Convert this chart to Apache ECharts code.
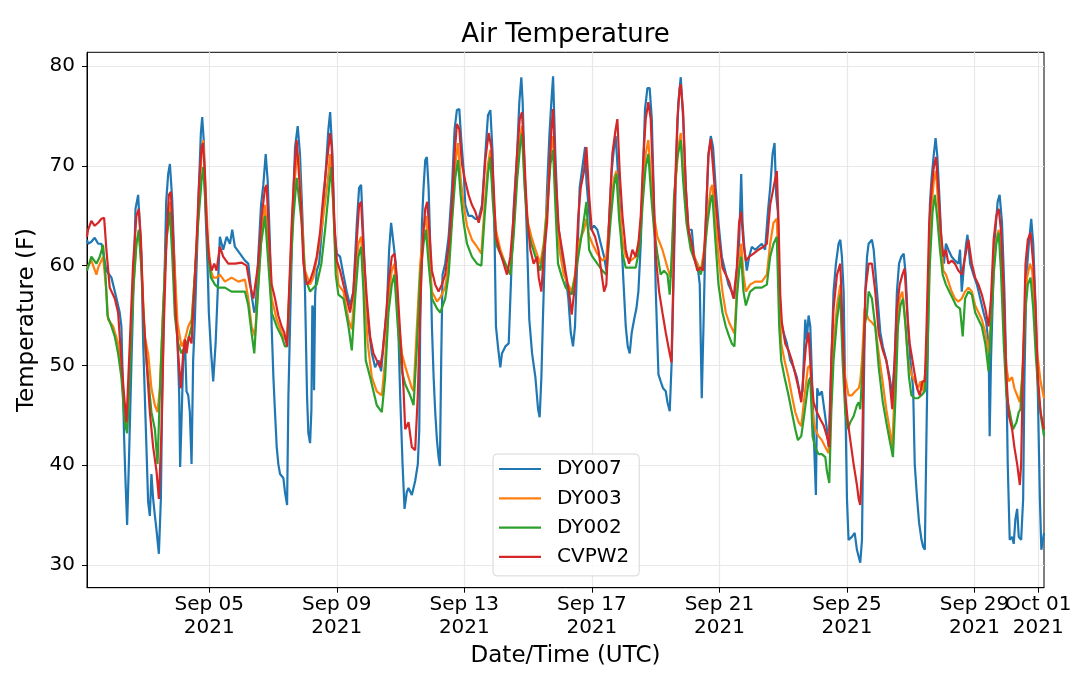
<!DOCTYPE html>
<html>
<head>
<meta charset="utf-8">
<title>Air Temperature</title>
<script src="https://cdn.jsdelivr.net/npm/echarts@6.0.0/dist/echarts.min.js"></script>
<style>
  html, body { margin: 0; padding: 0; background: #fff; }
  #chart { width: 1080px; height: 678px; }
</style>
</head>
<body>
<div id="chart"></div>
<script>
// times are hours since 2021-09-01 00:00 UTC, values in deg F
const stationNames = ['DY007', 'DY003', 'DY002', 'CVPW2']
const stationColors = ['#1f77b4', '#ff7f0e', '#2ca02c', '#d62728']
const tickDates = ['2021-09-05', '2021-09-09', '2021-09-13', '2021-09-17', '2021-09-21', '2021-09-25', '2021-09-29', '2021-10-01']
const yTicks = [30, 40, 50, 60, 70, 80]
const hourRange = [4, 724.3]
const tempRange = [27.7, 81.4]

const dy007 = [
  [4,62.6],[4.8,62.2],[7.3,62.4],[9.8,62.8],[12.4,62.2],[14.9,62.2],[16.1,62.4],[18.6,59.5],[22.4,58.8],[26.2,56.7],
  [28.6,55.3],[29.9,53.9],[31.2,47.0],[31.9,42.9],[32.9,38.7],[34.2,34.0],[35.5,40.1],[37.5,50.5],[39.5,60.2],[40.5,65.7],
  [42.5,67.1],[43.8,67.3],[45.0,60.9],[46.3,52.2],[47.5,47.0],[48.8,41.5],[50.0,36.3],[51.3,34.9],[52.5,39.1],[53.8,36.6],
  [55.1,34.9],[56.3,33.5],[58.1,31.1],[59.6,36.6],[60.6,47.0],[62.1,57.4],[63.6,66.4],[65.1,69.2],[66.4,70.2],[68.1,66.7],
  [70.1,59.1],[71.9,53.3],[73.4,47.0],[74.1,39.8],[75.1,44.3],[76.4,50.5],[77.7,52.6],[78.9,47.4],[80.2,47.0],[81.4,45.3],
  [82.7,40.1],[83.9,50.5],[85.2,54.6],[87.0,62.2],[88.2,67.8],[89.7,73.3],[90.7,74.9],[92.0,72.3],[93.2,65.4],[94.7,60.2],
  [95.7,55.3],[97.3,51.5],[99.0,48.4],[100.8,52.2],[102.8,58.8],[104.0,62.9],[106.5,61.6],[109.1,62.9],[111.6,62.2],[113.3,63.6],
  [115.3,61.9],[119.1,61.2],[122.9,60.5],[125.4,60.2],[127.9,57.0],[129.9,55.3],[130.9,55.6],[132.9,60.9],[135.0,66.1],[136.7,68.1],
  [138.5,71.2],[140.0,68.5],[141.7,62.2],[143.0,53.9],[144.3,48.8],[145.5,45.3],[146.8,41.8],[148.0,40.1],[149.3,39.1],[151.8,38.7],
  [153.0,37.3],[154.6,36.0],[155.6,47.0],[156.8,53.9],[158.6,64.3],[160.6,71.9],[162.6,74.0],[164.3,71.2],[166.1,65.0],[168.1,57.4],
  [169.6,47.0],[170.6,43.2],[171.9,42.2],[172.9,45.5],[173.6,56.0],[174.4,55.5],[174.9,47.5],[175.7,57.0],[176.9,59.5],[178.7,60.2],
  [181.2,64.3],[183.2,68.5],[185.7,73.7],[187.0,75.4],[188.7,71.2],[190.2,63.6],[192.0,61.2],[194.5,60.9],[197.0,59.1],[199.5,57.4],
  [202.0,56.0],[204.5,57.4],[207.1,64.3],[208.8,67.8],[210.3,68.1],[212.1,62.6],[213.8,57.4],[215.8,53.9],[218.4,51.2],[220.9,49.8],
  [223.4,50.5],[225.4,49.4],[227.2,52.2],[229.7,55.7],[231.4,61.6],[232.9,64.3],[234.7,62.2],[236.4,60.2],[237.9,55.7],[239.7,47.0],
  [241.5,40.1],[243.0,35.6],[244.7,37.3],[246.0,37.7],[248.5,37.0],[251.0,38.4],[253.0,40.1],[254.1,43.6],[254.8,53.9],[256.1,64.3],
  [257.3,67.8],[258.6,70.6],[259.8,70.9],[261.1,67.8],[262.3,62.2],[263.6,53.9],[264.9,48.8],[266.1,45.3],[267.4,42.5],[268.6,40.8],
  [269.6,39.9],[270.6,50.5],[271.6,59.1],[273.6,60.2],[276.2,62.9],[278.7,67.8],[280.7,73.7],[282.4,75.6],[284.2,75.7],[285.7,72.6],
  [287.5,69.5],[288.7,66.1],[291.2,65.0],[293.7,65.0],[296.3,64.7],[298.8,64.7],[301.3,66.1],[303.8,71.2],[305.8,75.1],[307.6,75.6],
  [309.3,71.2],[310.8,62.6],[311.8,53.9],[313.3,51.9],[315.1,49.8],[316.3,51.2],[318.9,51.9],[321.4,52.2],[323.4,59.5],[325.1,65.7],
  [327.7,71.2],[329.4,76.4],[330.9,78.9],[331.9,76.4],[333.4,69.5],[335.2,62.6],[336.9,54.6],[339.0,51.2],[341.5,48.8],[343.5,45.6],
  [344.7,44.8],[346.0,48.8],[347.0,53.9],[348.5,60.9],[350.3,67.8],[352.0,73.0],[353.5,76.4],[354.8,79.0],[356.5,71.2],[358.5,64.3],
  [361.6,60.9],[364.1,59.1],[366.3,56.7],[368.1,53.3],[369.8,51.9],[371.3,53.9],[373.1,60.9],[374.8,67.8],[376.9,69.9],[378.9,71.9],
  [379.9,68.5],[381.4,66.1],[383.1,63.6],[385.6,64.0],[388.1,63.6],[390.7,62.2],[393.2,60.9],[394.9,59.5],[396.9,64.3],[398.9,69.5],
  [400.7,71.9],[401.9,73.0],[404.0,68.5],[405.7,64.3],[407.5,59.1],[409.5,53.9],[411.0,51.9],[412.5,51.2],[414.0,53.3],[415.8,54.6],
  [417.5,55.7],[419.0,57.4],[420.8,62.2],[422.5,69.5],[424.0,75.7],[425.8,77.8],[427.5,77.8],[429.1,74.7],[430.8,66.1],[432.1,57.4],
  [434.1,49.1],[435.8,48.4],[437.6,47.7],[439.6,47.4],[440.9,46.3],[442.6,45.4],[444.1,50.5],[445.9,60.9],[447.6,71.2],[449.1,76.4],
  [450.9,78.9],[452.7,74.7],[454.7,67.8],[456.7,63.6],[459.2,63.6],[460.9,60.9],[463.4,60.2],[465.2,58.1],[466.7,46.7],[468.0,53.9],
  [469.7,64.3],[471.7,70.9],[473.5,73.0],[475.2,71.9],[477.2,67.8],[479.3,64.3],[481.8,60.9],[484.3,59.5],[486.8,58.1],[489.3,57.4],
  [491.3,56.7],[493.1,59.5],[494.8,62.2],[496.4,69.2],[497.4,64.3],[498.9,61.6],[500.6,59.5],[502.4,60.9],[504.4,61.9],[506.9,61.6],
  [509.4,61.9],[511.9,62.2],[514.4,61.6],[516.5,65.4],[518.2,67.8],[520.0,71.2],[521.5,72.3],[522.7,67.1],[524.0,65.4],[525.0,57.4],
  [526.5,54.3],[528.3,53.3],[530.8,52.2],[533.3,50.5],[535.8,49.8],[538.3,48.8],[540.8,47.0],[542.6,47.4],[544.6,54.6],[545.8,52.6],
  [547.1,55.0],[548.4,53.9],[550.1,47.0],[551.6,40.8],[552.6,37.0],[553.6,47.7],[555.1,47.0],[557.1,47.4],[559.2,45.3],[560.9,43.6],
  [562.2,41.8],[563.4,47.0],[564.7,52.2],[565.9,57.4],[567.7,60.2],[569.7,62.2],[571.0,62.6],[572.2,60.9],[573.5,57.4],[574.7,47.0],
  [576.0,36.6],[577.2,32.5],[579.7,32.8],[581.8,33.2],[583.5,31.5],[586.0,30.2],[587.3,32.5],[588.6,47.0],[589.8,57.4],[591.1,60.9],
  [592.3,62.2],[594.8,62.6],[596.1,61.6],[598.6,57.4],[601.1,53.3],[603.0,51.9],[605.6,50.5],[608.1,48.8],[610.1,47.0],[611.9,50.5],
  [613.6,57.4],[615.2,60.2],[616.9,60.9],[618.7,61.2],[620.2,59.1],[622.0,53.9],[623.7,50.5],[625.8,47.7],[627.0,40.1],[628.8,36.6],
  [630.3,34.2],[632.1,32.5],[633.3,31.8],[634.6,31.5],[635.9,43.6],[637.1,53.9],[638.4,66.1],[639.7,68.8],[641.4,71.2],[642.7,72.8],
  [644.0,71.0],[645.5,67.1],[647.2,62.2],[649.0,60.2],[650.5,62.2],[652.3,61.6],[654.8,60.9],[657.3,60.5],[659.9,60.2],[661.1,61.6],
  [662.4,57.4],[664.2,60.2],[665.7,62.2],[666.7,63.1],[668.7,60.2],[671.2,59.1],[673.8,58.1],[676.3,56.7],[678.8,55.3],[680.8,54.3],
  [682.6,52.2],[683.4,42.9],[684.4,50.5],[685.9,57.4],[687.6,63.3],[689.4,66.4],[690.9,67.1],[692.7,64.3],[694.5,57.4],[696.0,48.8],
  [697.0,40.1],[698.5,32.5],[700.3,32.8],[701.5,32.1],[702.8,34.6],[704.1,35.6],[705.3,32.8],[707.1,32.5],[708.6,36.6],[709.6,48.8],
  [711.1,59.1],[712.9,62.2],[714.7,64.7],[716.2,62.2],[718.0,55.7],[719.7,47.0],[721.2,36.6],[722.3,31.5],[723.5,32.5],[724.3,33.2]
]

const dy003 = [
  [4,59.8],[7.3,60.5],[11.1,59.1],[12.4,59.8],[16.1,60.9],[18.6,57.4],[19.9,54.6],[23.7,53.9],[27.4,52.2],[29.9,49.4],
  [32.4,45.3],[34.2,43.6],[36.2,50.5],[38.7,57.4],[41.2,62.2],[43.0,63.3],[45.0,60.2],[47.5,52.9],[50.0,51.2],[52.5,47.7],
  [55.1,46.0],[57.1,45.3],[58.8,47.7],[61.3,55.7],[63.8,62.6],[66.4,66.4],[67.6,66.4],[69.6,60.9],[72.1,54.3],[75.1,51.9],
  [77.7,52.6],[80.2,53.9],[82.7,54.6],[85.2,59.1],[87.7,65.0],[90.2,71.2],[91.5,72.6],[93.2,67.8],[95.2,62.2],[97.3,59.5],
  [99.0,58.8],[101.5,58.8],[104.0,59.1],[107.8,58.4],[112.8,58.8],[117.9,58.4],[122.9,58.6],[125.4,56.7],[127.9,53.9],[130.4,52.9],
  [132.9,58.1],[135.5,63.6],[138.0,66.1],[140.5,61.6],[143.0,56.7],[146.8,54.6],[150.5,53.3],[153.0,52.6],[154.6,52.6],[156.8,59.1],
  [159.3,67.1],[161.8,70.6],[163.1,71.2],[165.6,65.0],[168.1,59.5],[171.9,58.1],[174.4,58.8],[178.2,61.6],[181.9,65.0],[185.2,68.5],
  [187.0,71.2],[188.7,67.8],[190.7,62.2],[193.2,58.1],[197.0,57.4],[200.8,54.6],[203.3,53.6],[205.8,58.1],[208.3,62.2],[210.3,62.9],
  [212.8,57.4],[215.3,52.2],[218.4,48.8],[222.1,47.4],[225.9,47.0],[228.4,50.5],[230.9,56.7],[233.4,59.5],[235.4,60.2],[237.9,55.3],
  [241.0,51.2],[243.5,49.9],[246.0,48.8],[248.5,47.7],[249.8,47.4],[252.3,53.9],[254.8,60.2],[257.3,63.6],[259.1,65.0],[261.1,61.6],
  [263.6,57.4],[267.4,56.4],[269.9,56.8],[273.6,57.8],[276.2,60.2],[278.7,65.0],[281.2,70.2],[283.2,72.3],[285.2,68.8],[287.5,66.1],
  [290.0,64.0],[293.7,62.6],[297.5,61.9],[300.8,61.2],[303.3,66.1],[305.8,70.2],[307.6,71.6],[309.3,67.8],[311.8,63.6],[315.1,61.6],
  [318.9,60.2],[322.6,59.1],[325.1,63.6],[327.7,69.5],[330.2,73.0],[331.4,74.0],[333.4,68.5],[335.9,64.3],[338.5,62.9],[341.5,61.6],
  [345.2,60.2],[347.7,62.2],[350.3,66.1],[352.8,71.2],[354.8,73.0],[357.0,67.1],[359.6,61.6],[362.8,59.1],[366.1,58.1],[368.8,57.4],
  [371.3,59.1],[373.8,62.2],[378.1,63.6],[379.9,64.7],[381.9,63.0],[384.4,62.2],[388.1,61.2],[391.9,60.5],[394.9,60.9],[398.2,66.1],
  [400.7,68.8],[402.5,69.5],[404.5,66.1],[407.0,62.6],[409.5,60.9],[413.2,60.5],[417.0,60.9],[420.0,62.9],[422.5,67.8],[424.5,71.2],
  [426.5,72.6],[428.6,68.5],[430.8,65.0],[433.3,62.9],[437.1,61.6],[440.9,59.8],[443.4,58.8],[445.1,63.6],[447.1,68.5],[449.1,71.9],
  [450.9,73.3],[452.7,69.5],[455.2,65.0],[458.4,62.2],[462.2,60.5],[466.0,59.5],[468.5,61.6],[471.0,65.0],[473.5,67.8],[474.7,68.1],
  [476.7,65.0],[479.3,60.9],[482.3,57.4],[484.8,55.3],[487.3,54.3],[491.3,53.2],[493.1,57.4],[494.8,60.2],[496.4,62.2],[498.1,59.1],
  [499.9,57.4],[503.1,58.1],[506.9,58.4],[511.9,58.4],[515.7,59.1],[518.2,62.2],[520.7,64.3],[523.2,64.7],[525.0,57.4],[526.5,52.2],
  [529.0,50.5],[532.0,48.8],[534.5,47.0],[537.1,45.3],[539.6,44.3],[541.6,43.9],[544.1,47.0],[546.6,49.8],[548.4,50.0],[550.1,45.3],
  [552.1,43.6],[554.6,42.9],[557.1,42.5],[559.7,41.8],[562.2,41.2],[564.2,47.0],[565.9,52.2],[568.5,56.0],[571.0,58.1],[572.7,52.2],
  [574.7,48.8],[577.2,47.0],[579.7,47.0],[582.3,47.4],[584.8,47.7],[586.0,48.4],[587.3,50.5],[589.3,55.7],[592.3,54.6],[594.8,54.3],
  [597.3,53.9],[599.9,51.2],[602.4,48.8],[605.6,45.6],[608.1,43.6],[610.1,41.8],[611.9,47.7],[613.6,53.9],[615.7,56.7],[617.7,57.4],
  [619.4,55.0],[622.0,50.5],[624.5,49.1],[627.0,48.4],[629.5,47.7],[631.3,48.4],[633.3,47.4],[634.6,47.4],[635.9,50.5],[637.9,60.9],
  [639.7,66.1],[641.4,68.5],[643.0,69.5],[644.7,66.1],[646.5,62.6],[648.5,59.5],[650.5,59.1],[652.3,58.4],[654.8,57.4],[657.3,56.7],
  [659.9,56.4],[662.4,56.7],[664.9,57.4],[667.4,57.8],[670.0,57.4],[672.5,56.0],[675.0,55.3],[677.5,54.6],[680.1,53.3],[682.6,51.2],
  [684.4,54.6],[686.4,60.2],[688.4,62.6],[690.2,63.6],[691.9,60.9],[694.0,54.6],[696.0,49.8],[697.8,48.4],[700.3,48.8],[702.0,47.7],
  [704.1,47.0],[706.1,46.3],[707.9,48.8],[709.6,54.6],[711.6,58.8],[713.7,60.2],[715.4,59.5],[717.2,55.7],[719.2,51.2],[721.7,48.4],
  [724.3,46.7]
]

const dy002 = [
  [4,59.5],[7.3,60.9],[11.1,60.2],[13.6,60.9],[16.1,62.1],[17.9,59.1],[19.4,55.0],[22.4,53.9],[24.9,52.9],[27.4,51.2],
  [29.9,48.8],[32.4,44.3],[34.2,43.2],[36.2,48.8],[38.7,57.4],[41.2,62.2],[43.0,63.6],[45.0,59.5],[47.5,52.2],[50.0,48.8],
  [52.5,45.3],[55.1,43.6],[57.1,40.1],[58.8,47.0],[61.3,55.7],[63.8,62.6],[66.4,65.4],[68.1,61.2],[70.1,55.0],[72.6,52.2],
  [75.1,51.2],[77.7,51.9],[80.2,52.6],[82.7,53.9],[85.2,59.1],[87.7,64.3],[90.2,68.5],[91.5,69.9],[93.2,66.1],[95.2,60.9],
  [97.3,58.8],[100.3,58.1],[102.8,57.8],[107.8,57.8],[112.8,57.4],[117.9,57.4],[122.9,57.4],[125.4,56.0],[127.9,53.2],[129.9,51.2],
  [132.4,56.7],[135.0,62.2],[138.0,65.0],[140.5,60.2],[143.0,55.3],[146.8,53.9],[150.5,52.9],[153.0,51.9],[154.6,51.9],[156.8,58.4],
  [159.3,64.7],[161.8,68.8],[163.1,68.8],[165.6,64.3],[168.1,58.8],[171.9,57.4],[176.9,58.1],[180.4,60.2],[183.2,63.6],[185.7,67.1],
  [187.7,69.9],[189.5,66.1],[191.2,59.1],[193.2,57.1],[197.0,56.7],[200.8,53.9],[203.3,51.5],[205.8,56.7],[208.3,60.9],[210.3,61.9],
  [212.1,57.4],[213.8,50.5],[217.1,48.8],[219.6,47.4],[222.1,46.0],[225.9,45.3],[228.4,48.8],[230.9,55.3],[233.4,58.1],[235.4,59.1],
  [237.9,53.9],[241.0,49.4],[243.5,48.1],[247.2,47.0],[249.8,46.0],[252.3,51.9],[254.8,59.1],[257.3,62.2],[259.1,63.6],[261.1,60.2],
  [263.6,56.7],[267.4,55.7],[269.9,55.3],[273.6,56.7],[276.2,59.1],[278.7,64.3],[281.2,68.8],[283.2,70.6],[285.2,67.1],[287.5,64.3],
  [290.0,62.2],[293.7,60.9],[297.5,60.2],[300.8,60.0],[303.3,65.0],[305.8,69.2],[307.6,70.9],[309.3,66.7],[311.8,62.2],[315.1,61.2],
  [318.9,60.2],[322.6,59.1],[325.1,62.9],[327.7,68.5],[330.2,72.3],[331.4,73.3],[333.4,67.8],[335.9,63.6],[338.5,62.2],[341.5,60.9],
  [345.2,59.5],[347.7,61.6],[350.3,65.4],[352.8,70.2],[354.8,71.6],[356.5,66.1],[358.5,60.2],[361.6,58.8],[364.3,57.8],[366.8,57.4],
  [368.8,57.1],[371.3,58.8],[373.8,60.9],[376.9,63.6],[379.9,66.4],[381.9,61.6],[384.4,60.9],[388.1,60.2],[391.9,59.5],[394.9,59.1],
  [398.2,64.7],[400.7,68.1],[402.5,69.2],[404.5,64.7],[407.0,61.2],[409.5,59.8],[413.2,59.8],[417.0,59.8],[420.0,61.9],[422.5,66.7],
  [424.5,69.9],[426.5,71.2],[428.6,67.1],[430.8,63.6],[433.3,61.2],[435.8,59.1],[438.3,59.5],[440.9,59.1],[442.6,57.1],[444.1,60.9],
  [445.9,67.1],[448.4,70.9],[450.9,72.6],[452.7,68.5],[455.2,64.3],[458.4,61.6],[462.2,60.2],[466.0,59.1],[468.5,60.9],[471.0,64.3],
  [473.5,66.7],[474.7,67.1],[476.7,63.0],[479.3,58.1],[482.3,55.3],[484.8,53.9],[487.3,52.9],[489.3,52.2],[491.3,51.9],[493.1,56.7],
  [494.8,59.5],[496.4,60.9],[498.1,57.4],[499.9,56.0],[503.1,57.4],[506.9,57.8],[511.9,57.8],[515.7,58.1],[518.2,60.9],[520.7,62.2],
  [523.2,62.9],[525.0,53.9],[526.5,50.5],[529.0,48.8],[532.0,47.0],[534.5,45.3],[537.1,43.6],[539.1,42.5],[541.6,42.9],[544.1,45.3],
  [547.1,48.4],[548.4,48.8],[550.1,42.9],[552.1,41.8],[554.6,41.1],[557.1,41.1],[559.7,40.8],[560.9,39.4],[562.7,38.2],[564.2,45.3],
  [565.9,50.5],[568.5,54.6],[571.0,57.1],[572.7,50.5],[574.7,45.3],[576.7,43.6],[578.5,44.3],[581.0,44.9],[583.5,46.0],[584.8,46.3],
  [586.0,45.6],[587.3,48.8],[589.3,54.0],[591.1,55.3],[592.3,57.4],[594.8,56.7],[597.3,53.9],[599.9,49.8],[603.0,46.3],[605.6,44.3],
  [608.1,42.5],[610.6,40.8],[612.6,47.0],[614.4,53.9],[616.2,56.0],[618.2,56.7],[620.2,53.9],[622.7,48.8],[624.5,47.0],[627.0,46.7],
  [629.5,46.7],[632.1,47.0],[634.6,47.4],[636.4,50.5],[638.4,60.2],[640.4,65.4],[642.2,67.1],[644.0,64.7],[646.0,61.6],[648.0,59.1],
  [650.5,58.1],[653.0,57.4],[655.6,56.7],[658.1,56.0],[661.1,55.7],[663.1,52.9],[664.9,56.7],[667.4,57.4],[670.0,57.1],[672.5,55.3],
  [675.0,54.6],[677.5,53.9],[680.1,52.2],[682.6,49.4],[684.4,53.9],[686.4,59.1],[688.4,62.2],[690.2,63.3],[691.9,59.5],[694.0,52.2],
  [696.0,47.0],[698.5,45.3],[701.0,43.6],[703.6,44.3],[705.3,45.3],[706.6,45.6],[708.6,50.5],[710.4,55.7],[712.1,58.1],[714.2,58.8],
  [716.2,55.7],[718.2,50.8],[720.5,46.7],[722.3,44.6],[724.3,42.9]
]

const cvpw2 = [
  [4,62.9],[4.8,63.6],[7.3,64.5],[9.8,64.0],[12.4,64.3],[14.9,64.7],[16.9,64.8],[18.6,61.6],[21.1,57.8],[24.9,56.7],
  [27.4,55.3],[29.9,50.5],[31.9,47.0],[33.7,44.3],[36.2,52.2],[38.7,60.2],[41.2,65.0],[43.0,65.7],[44.5,62.9],[46.3,55.7],
  [48.8,50.5],[51.3,45.3],[53.8,41.8],[56.3,39.4],[58.1,36.6],[60.1,43.6],[61.8,53.9],[63.8,62.6],[65.6,67.1],[67.1,67.4],
  [68.9,62.6],[70.6,55.7],[72.6,51.2],[74.6,47.7],[76.4,51.2],[77.7,52.6],[78.9,51.2],[80.7,52.9],[82.7,52.2],[84.7,57.4],
  [86.5,62.6],[88.2,67.8],[90.2,71.9],[91.2,72.3],[92.7,69.5],[94.0,64.3],[95.7,60.9],[97.8,59.5],[99.8,60.2],[101.5,59.5],
  [104.0,61.9],[106.5,60.9],[110.3,60.2],[115.3,60.2],[120.4,60.3],[124.1,60.0],[126.6,58.1],[129.2,56.7],[130.4,56.7],[132.9,60.2],
  [135.5,65.0],[138.0,67.8],[139.2,68.1],[141.0,62.9],[143.0,58.1],[145.5,56.7],[148.0,55.0],[150.5,53.9],[152.5,53.3],[154.6,51.9],
  [156.1,57.4],[158.1,64.3],[160.1,69.5],[161.8,72.6],[163.1,72.6],[165.1,66.1],[166.9,60.2],[169.4,58.1],[171.9,58.5],[174.4,59.5],
  [176.9,60.9],[179.4,63.3],[181.9,67.1],[184.4,70.2],[187.0,73.3],[188.2,71.9],[190.2,64.3],[192.0,60.5],[194.5,59.5],[197.0,58.1],
  [199.5,56.7],[202.0,55.3],[204.5,57.4],[207.1,62.6],[208.8,66.1],[210.3,66.4],[212.1,61.6],[214.6,56.7],[217.1,52.9],[219.6,51.2],
  [222.1,50.5],[224.6,49.8],[226.4,51.2],[228.4,53.9],[230.9,58.1],[233.4,60.9],[235.4,61.2],[237.2,58.8],[239.7,53.3],[242.2,47.7],
  [243.5,43.6],[246.0,44.3],[248.5,41.8],[251.0,41.5],[253.0,47.0],[254.8,55.7],[256.6,62.2],[258.6,65.7],[260.1,66.4],[261.6,63.6],
  [263.6,59.5],[266.1,58.1],[268.6,57.4],[271.1,58.1],[273.6,59.1],[276.2,61.9],[278.7,66.1],[280.7,71.2],[282.4,74.2],[284.2,73.7],
  [286.2,70.2],[288.7,68.5],[291.2,67.1],[293.7,66.1],[296.3,65.4],[298.8,64.3],[301.3,65.7],[303.8,70.6],[306.3,73.3],[308.3,71.9],
  [310.1,67.8],[311.8,62.9],[314.3,61.6],[317.6,60.2],[320.1,59.1],[322.6,60.9],[325.1,65.0],[327.7,71.2],[329.7,74.7],[331.4,75.4],
  [333.4,70.2],[335.2,65.0],[337.7,61.6],[340.2,60.2],[342.7,60.9],[344.0,58.8],[346.0,57.4],[347.7,60.9],[350.3,64.3],[352.0,69.5],
  [353.5,73.7],[354.8,75.7],[356.5,69.5],[359.1,63.6],[361.6,61.6],[364.1,59.5],[366.8,57.4],[368.8,55.1],[371.3,58.1],[373.8,65.0],
  [375.6,67.8],[378.1,69.5],[379.9,71.9],[381.9,67.1],[383.9,63.6],[386.4,62.9],[388.9,61.6],[391.4,59.1],[393.2,57.4],[394.9,58.1],
  [396.9,64.3],[399.4,71.2],[401.9,73.7],[403.2,74.7],[405.0,69.2],[407.0,65.0],[409.5,61.6],[412.0,60.2],[414.5,61.6],[417.0,60.9],
  [419.0,62.2],[420.8,65.0],[422.5,70.2],[424.5,74.7],[426.5,76.4],[428.3,74.7],[430.1,68.5],[432.1,60.9],[434.6,57.4],[437.1,55.3],
  [439.6,53.3],[442.1,51.5],[443.9,50.3],[445.1,57.4],[446.6,67.8],[448.4,74.7],[450.1,77.8],[450.9,78.2],[452.7,75.4],[454.7,67.8],
  [456.7,63.6],[459.2,62.2],[460.9,60.9],[463.4,59.5],[466.0,59.8],[467.7,59.5],[469.7,64.3],[471.7,71.2],[473.5,72.7],[475.2,69.9],
  [477.2,66.4],[479.8,62.6],[482.3,59.8],[484.8,59.1],[487.3,58.4],[490.6,56.7],[493.1,59.8],[494.8,64.3],[496.4,65.4],[498.1,62.2],
  [499.9,60.5],[502.4,60.9],[505.7,61.2],[509.4,61.6],[513.2,61.9],[515.7,62.2],[518.2,66.1],[520.7,67.8],[523.2,69.5],[524.5,64.3],
  [525.8,57.1],[527.0,54.3],[529.5,52.2],[532.0,51.5],[534.5,50.5],[537.1,49.1],[539.6,47.7],[541.6,46.3],[543.3,49.1],[545.1,51.9],
  [547.1,53.3],[549.1,48.8],[550.9,46.3],[553.4,45.3],[555.9,44.6],[558.4,44.0],[560.9,42.9],[562.7,41.8],[564.2,50.5],[565.9,55.7],
  [568.5,59.1],[571.0,60.2],[572.7,53.9],[574.7,47.0],[576.7,44.3],[578.5,42.5],[581.0,40.1],[583.5,38.0],[584.8,36.6],[586.0,36.0],
  [587.3,40.1],[588.6,50.5],[589.8,57.4],[592.3,60.2],[594.8,60.2],[597.3,57.4],[599.9,53.2],[603.0,51.5],[605.6,50.5],[608.1,48.4],
  [610.1,45.6],[611.9,50.5],[613.6,55.7],[615.7,58.1],[617.7,59.1],[619.4,59.7],[621.2,55.5],[623.2,52.2],[625.3,50.5],[627.0,49.1],
  [628.8,47.7],[630.8,47.0],[632.8,48.4],[634.6,48.4],[635.9,53.9],[637.9,64.3],[639.7,67.8],[641.4,69.9],[643.0,70.9],[644.7,67.8],
  [646.5,63.6],[648.5,60.9],[650.5,61.6],[652.3,60.2],[654.8,60.5],[657.3,60.2],[659.9,59.5],[662.4,59.1],[664.9,60.9],[667.4,62.6],
  [670.0,60.2],[672.5,58.8],[675.0,58.1],[677.5,57.1],[680.1,55.7],[682.6,53.9],[684.4,56.7],[686.4,62.6],[688.4,65.0],[690.2,65.7],
  [691.9,63.6],[694.0,57.4],[696.0,48.8],[697.8,45.0],[700.3,43.6],[702.0,41.8],[704.1,40.1],[706.1,38.0],[707.1,40.1],[708.6,50.5],
  [710.4,60.2],[712.1,62.6],[714.2,63.3],[716.2,60.2],[718.0,55.7],[719.7,48.8],[721.7,45.3],[724.3,43.6]
]

const FONT = 'DejaVu Sans'
const START = Date.UTC(2021, 8, 1)
const MONTHS = ['Jan', 'Feb', 'Mar', 'Apr', 'May', 'Jun', 'Jul', 'Aug', 'Sep', 'Oct', 'Nov', 'Dec']

// the x axis runs in hours since START
const tickHours = tickDates.map(d => (Date.parse(d + 'T00:00:00Z') - START) / 3600000)
// the last tick sits so close to Sep 29 that echarts would drop one of them,
// so it gets its own (otherwise empty) axis on the same spot
const mainTicks = tickHours.slice(0, -1)
const edgeTicks = tickHours.slice(-1)

const dateLabel = h => {
  const d = new Date(START + h * 3600000)
  return MONTHS[d.getUTCMonth()] + ' ' + String(d.getUTCDate()).padStart(2, '0') + '\n' + d.getUTCFullYear()
}

const makeSeries = (name, points, color) => ({
  name: name,
  type: 'line',
  xAxisIndex: 0,
  data: points,
  symbol: 'none',
  showSymbol: false,
  lineStyle: { width: 2.2, color: color },
  itemStyle: { color: color },
  emphasis: { disabled: true },
  animation: false
})

const gridLine = { show: true, lineStyle: { color: '#e8e8e8', width: 1.2 } }
const tickStyle = { show: true, length: 5, lineStyle: { color: '#000', width: 1 } }
const tickLabel = {
  formatter: dateLabel,
  hideOverlap: false,
  showMinLabel: true,
  showMaxLabel: true,
  fontFamily: FONT, fontSize: 20, lineHeight: 23, color: '#000', margin: 6
}

const chart = echarts.init(document.getElementById('chart'))
chart.setOption({
  animation: false,
  backgroundColor: '#fff',
  title: {
    text: 'Air Temperature',
    left: 565.5,
    top: 22,
    textAlign: 'center',
    padding: 0,
    textStyle: { fontFamily: FONT, fontSize: 26, fontWeight: 'normal', color: '#000', lineHeight: 26 }
  },
  grid: {
    left: 87, right: 36, top: 52.3, bottom: 90.3,
    show: true, borderColor: '#000', borderWidth: 1,
    outerBoundsMode: 'none'
  },
  legend: {
    orient: 'vertical',
    left: 493, top: 454,
    data: stationNames,
    icon: 'rect',
    itemWidth: 42, itemHeight: 2.2, itemGap: 9.3,
    padding: [5, 10, 9, 6],
    backgroundColor: 'rgba(255,255,255,0.8)',
    borderColor: '#d6d6d6', borderWidth: 1, borderRadius: 4,
    selectedMode: false,
    textStyle: { fontFamily: FONT, fontSize: 20, color: '#000', lineHeight: 20, padding: [0, 0, 0, 11] }
  },
  xAxis: [
    {
      type: 'value',
      position: 'bottom',
      min: hourRange[0],
      max: hourRange[1],
      name: 'Date/Time (UTC)',
      nameLocation: 'middle',
      nameGap: 55,
      nameTextStyle: { fontFamily: FONT, fontSize: 23, color: '#000', lineHeight: 23 },
      axisLine: { show: true, lineStyle: { color: '#000', width: 1 } },
      axisTick: Object.assign({ customValues: mainTicks }, tickStyle),
      axisLabel: Object.assign({ customValues: mainTicks }, tickLabel),
      splitLine: gridLine
    },
    {
      type: 'value',
      position: 'bottom',
      offset: 0,
      min: hourRange[0],
      max: hourRange[1],
      axisLine: { show: false },
      axisTick: Object.assign({ customValues: edgeTicks }, tickStyle),
      axisLabel: Object.assign({ customValues: edgeTicks }, tickLabel),
      splitLine: gridLine
    }
  ],
  yAxis: {
    type: 'value',
    min: tempRange[0],
    max: tempRange[1],
    name: 'Temperature (F)',
    nameLocation: 'middle',
    nameGap: 40,
    nameRotate: 90,
    nameTextStyle: { fontFamily: FONT, fontSize: 23, color: '#000', lineHeight: 23 },
    axisLine: { show: true, lineStyle: { color: '#000', width: 1 } },
    axisTick: { show: true, length: 5, lineStyle: { color: '#000', width: 1 }, customValues: yTicks },
    axisLabel: { customValues: yTicks, fontFamily: FONT, fontSize: 20, color: '#000', margin: 12 },
    splitLine: gridLine
  },
  series: [
    makeSeries(stationNames[0], dy007, stationColors[0]),
    makeSeries(stationNames[1], dy003, stationColors[1]),
    makeSeries(stationNames[2], dy002, stationColors[2]),
    makeSeries(stationNames[3], cvpw2, stationColors[3])
  ]
})
</script>
</body>
</html>
